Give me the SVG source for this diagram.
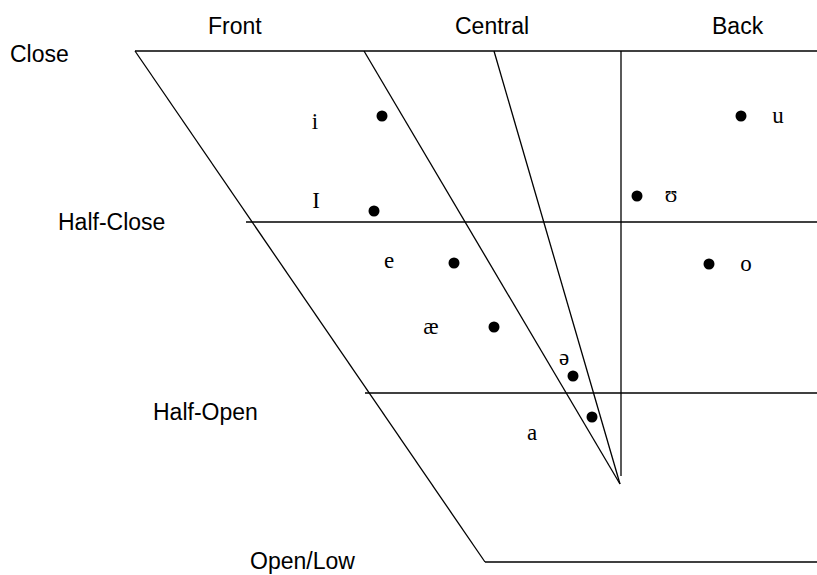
<svg xmlns="http://www.w3.org/2000/svg" width="817" height="575" viewBox="0 0 817 575">
<style>
.ln{stroke:#000;stroke-width:1.3;fill:none}
.hd{font-family:"Liberation Sans",Arial,sans-serif;font-size:23px;fill:#000}
.ph{font-family:"Liberation Serif","Times New Roman",serif;font-size:23px;fill:#000;text-anchor:middle}
.dot{fill:#000}
</style>
<rect width="817" height="575" fill="#fff"/>
<g id="chart-lines">
<line class="ln" x1="135" y1="51" x2="817" y2="51"/>
<line class="ln" x1="135" y1="51" x2="485" y2="562"/>
<line class="ln" x1="485" y1="562" x2="817" y2="562"/>
<line class="ln" x1="246" y1="222" x2="817" y2="222"/>
<line class="ln" x1="365" y1="393" x2="817" y2="393"/>
<line class="ln" x1="364" y1="51" x2="620" y2="484"/>
<line class="ln" x1="494" y1="51" x2="620" y2="484"/>
<line class="ln" x1="621" y1="51" x2="621" y2="476"/>
</g>
<g id="headings">
<text class="hd" x="208" y="34">Front</text>
<text class="hd" x="455" y="34">Central</text>
<text class="hd" x="712" y="34">Back</text>
<text class="hd" x="10" y="62">Close</text>
<text class="hd" x="58" y="230">Half-Close</text>
<text class="hd" x="153" y="420">Half-Open</text>
<text class="hd" x="250" y="569">Open/Low</text>
</g>
<g id="vowel-i"><circle class="dot" cx="382" cy="116" r="5.5"/><text class="ph" x="315" y="129">i</text></g>
<g id="vowel-I"><circle class="dot" cx="374" cy="211" r="5.5"/><text class="ph" x="316" y="208">I</text></g>
<g id="vowel-e"><circle class="dot" cx="454" cy="263" r="5.5"/><text class="ph" x="389" y="268">e</text></g>
<g id="vowel-ae"><circle class="dot" cx="494" cy="327" r="5.5"/><text class="ph" x="431" y="334">æ</text></g>
<g id="vowel-schwa"><circle class="dot" cx="573" cy="376" r="5.5"/><text class="ph" x="564" y="365">ə</text></g>
<g id="vowel-a"><circle class="dot" cx="592" cy="417" r="5.5"/><text class="ph" x="532" y="440">a</text></g>
<g id="vowel-upsilon"><circle class="dot" cx="637" cy="196" r="5.5"/><text class="ph" x="671" y="202">ʊ</text></g>
<g id="vowel-u"><circle class="dot" cx="741" cy="116" r="5.5"/><text class="ph" x="778" y="123">u</text></g>
<g id="vowel-o"><circle class="dot" cx="709" cy="264" r="5.5"/><text class="ph" x="746" y="271">o</text></g>
</svg>
